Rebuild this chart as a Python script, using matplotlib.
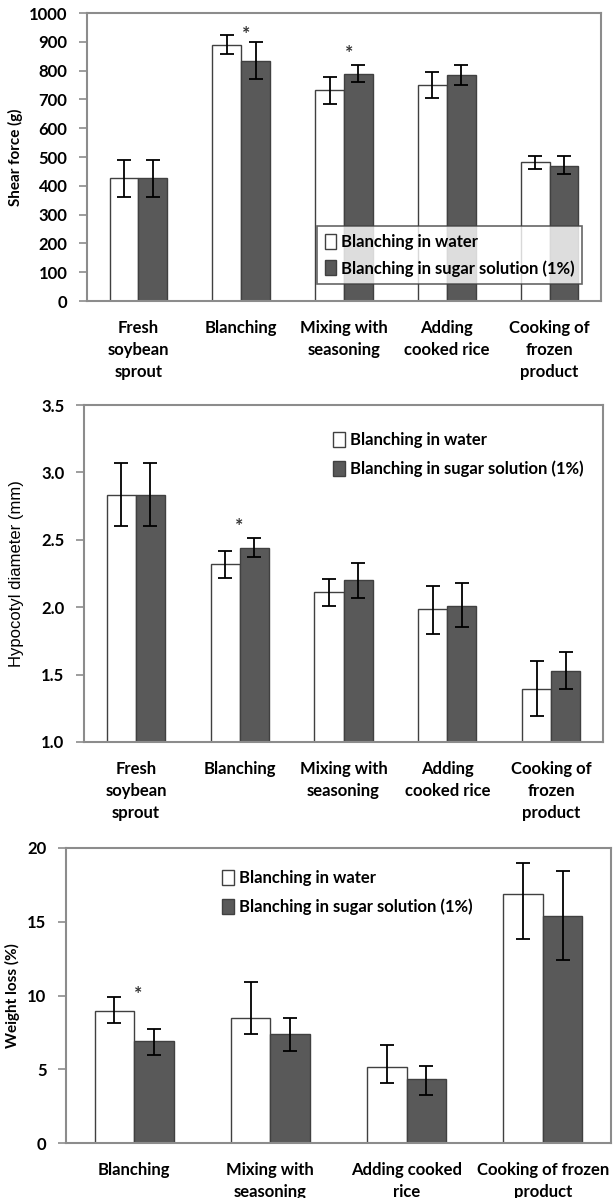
import matplotlib
matplotlib.use("Agg")
import matplotlib.pyplot as plt
import numpy as np

plt.rcParams['font.family'] = ['Lato', 'DejaVu Sans']

# Shear force (g)
stages_a = ["Fresh\nsoybean\nsprout", "Blanching", "Mixing with\nseasoning",
            "Adding\ncooked rice", "Cooking of\nfrozen\nproduct"]
shear_water = [428, 888, 734, 751, 483]
shear_water_lo = [66, 31, 49, 46, 24]
shear_water_hi = [60, 37, 45, 43, 20]
shear_sugar = [428, 832, 789, 784, 470]
shear_sugar_lo = [66, 62, 28, 33, 28]
shear_sugar_hi = [60, 66, 29, 34, 33]
shear_sig = [1, 2]          # groups marked as significantly different
shear_sig_y = [925, 860]

# Hypocotyl diameter (mm)
diam_water = [2.83, 2.32, 2.11, 1.99, 1.39]
diam_water_lo = [0.23, 0.10, 0.10, 0.19, 0.20]
diam_water_hi = [0.24, 0.10, 0.10, 0.17, 0.21]
diam_sugar = [2.83, 2.44, 2.20, 2.01, 1.53]
diam_sugar_lo = [0.23, 0.07, 0.13, 0.16, 0.14]
diam_sugar_hi = [0.24, 0.07, 0.13, 0.17, 0.14]
diam_sig = [1]
diam_sig_y = [2.60]

# Weight loss (%)
stages_c = ["Blanching", "Mixing with\nseasoning", "Adding cooked\nrice",
            "Cooking of frozen\nproduct"]
loss_water = [8.95, 8.5, 5.13, 16.9]
loss_water_lo = [0.81, 1.1, 1.04, 3.1]
loss_water_hi = [0.95, 2.4, 1.49, 2.06]
loss_sugar = [6.94, 7.37, 4.32, 15.41]
loss_sugar_lo = [0.97, 1.11, 1.07, 3.0]
loss_sugar_hi = [0.81, 1.13, 0.9, 3.0]
loss_sig = [0]
loss_sig_y = [10.1]

labels = ["Blanching in water", "Blanching in sugar solution (1%)"]

W, H = 613, 1198
fig = plt.figure(figsize=(W / 100, H / 100), dpi=100)

SPINE = "#8c8c8c"
DARK = "#595959"
EDGE = "#404040"


def px_axes(left, top, right, bottom):
    return fig.add_axes([left / W, 1 - bottom / H, (right - left) / W, (bottom - top) / H])


def panel(ax, cats, w, wlo, whi, s, slo, shi, sig, sig_y, star_dx, bw,
          ylim, yticks, ticklabels, ylabel, ylabel_kw, ylabel_x):
    x = np.arange(len(cats))
    ax.bar(x - bw / 2, w, bw, color="white", edgecolor=EDGE, linewidth=1.0,
           label=labels[0], zorder=2)
    ax.bar(x + bw / 2, s, bw, color=DARK, edgecolor=EDGE, linewidth=1.0,
           label=labels[1], zorder=2)
    ax.errorbar(x - bw / 2, w, yerr=[wlo, whi], fmt="none", ecolor="black",
                elinewidth=1.3, capsize=5, capthick=1.3, zorder=3)
    ax.errorbar(x + bw / 2, s, yerr=[slo, shi], fmt="none", ecolor="black",
                elinewidth=1.3, capsize=5, capthick=1.3, zorder=3)
    for i, yv in zip(sig, sig_y):
        ax.text(i + star_dx, yv, "*", ha="center", va="center",
                fontsize=14, fontweight="bold", color="#333333")
    ax.set_xlim(-0.5, len(cats) - 0.5)
    ax.set_ylim(*ylim)
    ax.set_yticks(yticks)
    ax.set_yticklabels(ticklabels, fontsize=12, fontweight="bold")
    ax.set_xticks(x)
    ax.set_xticklabels(cats, fontsize=12, fontweight="bold", linespacing=1.45)
    ax.tick_params(axis="x", length=0, pad=14)
    ax.tick_params(axis="y", length=6, width=1.2, color=SPINE, direction="out", pad=8)
    for sp in ax.spines.values():
        sp.set_color(SPINE)
        sp.set_linewidth(1.5)
    ax.set_ylabel(ylabel, **ylabel_kw)
    ax.yaxis.set_label_coords(ylabel_x, 0.5)


# Shear force panel
ax1 = px_axes(87, 13, 601, 301)
panel(ax1, stages_a, shear_water, shear_water_lo, shear_water_hi,
      shear_sugar, shear_sugar_lo, shear_sugar_hi, shear_sig, shear_sig_y, 0.05, 0.28,
      (0, 1000), np.arange(0, 1001, 100), [str(v) for v in range(0, 1001, 100)],
      "Shear force (g)", dict(fontsize=11, fontweight="bold"), -0.125)
leg1 = ax1.legend(loc="lower right", bbox_to_anchor=(0.98, 0.03),
                  prop=dict(weight="bold", size=12), frameon=True, fancybox=False,
                  edgecolor=EDGE, handlelength=0.7, handleheight=1.0,
                  handletextpad=0.3, labelspacing=0.6, borderpad=0.45)
leg1.get_frame().set_linewidth(1.2)
leg1.set_zorder(5)

# Hypocotyl diameter panel
ax2 = px_axes(84, 405, 603, 742)
panel(ax2, stages_a, diam_water, diam_water_lo, diam_water_hi,
      diam_sugar, diam_sugar_lo, diam_sugar_hi, diam_sig, diam_sig_y, -0.01, 0.28,
      (1.0, 3.5), np.arange(1.0, 3.51, 0.5), ["1.0", "1.5", "2.0", "2.5", "3.0", "3.5"],
      "Hypocotyl diameter (mm)",
      dict(fontsize=12, family=["Liberation Sans", "DejaVu Sans"]), -0.115)
ax2.legend(loc="upper right", bbox_to_anchor=(0.985, 0.955), frameon=False,
           prop=dict(weight="bold", size=12), handlelength=0.7, handleheight=1.0,
           handletextpad=0.3, labelspacing=0.75, borderpad=0.2)

# Weight loss panel
ax3 = px_axes(66, 848, 611, 1143)
panel(ax3, stages_c, loss_water, loss_water_lo, loss_water_hi,
      loss_sugar, loss_sugar_lo, loss_sugar_hi, loss_sig, loss_sig_y, 0.03, 0.29,
      (0, 20), np.arange(0, 21, 5), ["0", "5", "10", "15", "20"],
      "Weight loss (%)", dict(fontsize=11, fontweight="bold"), -0.085)
ax3.legend(loc="upper left", bbox_to_anchor=(0.265, 0.965), frameon=False,
           prop=dict(weight="bold", size=12), handlelength=0.7, handleheight=1.0,
           handletextpad=0.3, labelspacing=0.75, borderpad=0.2)

fig.savefig("out.png", dpi=100)
